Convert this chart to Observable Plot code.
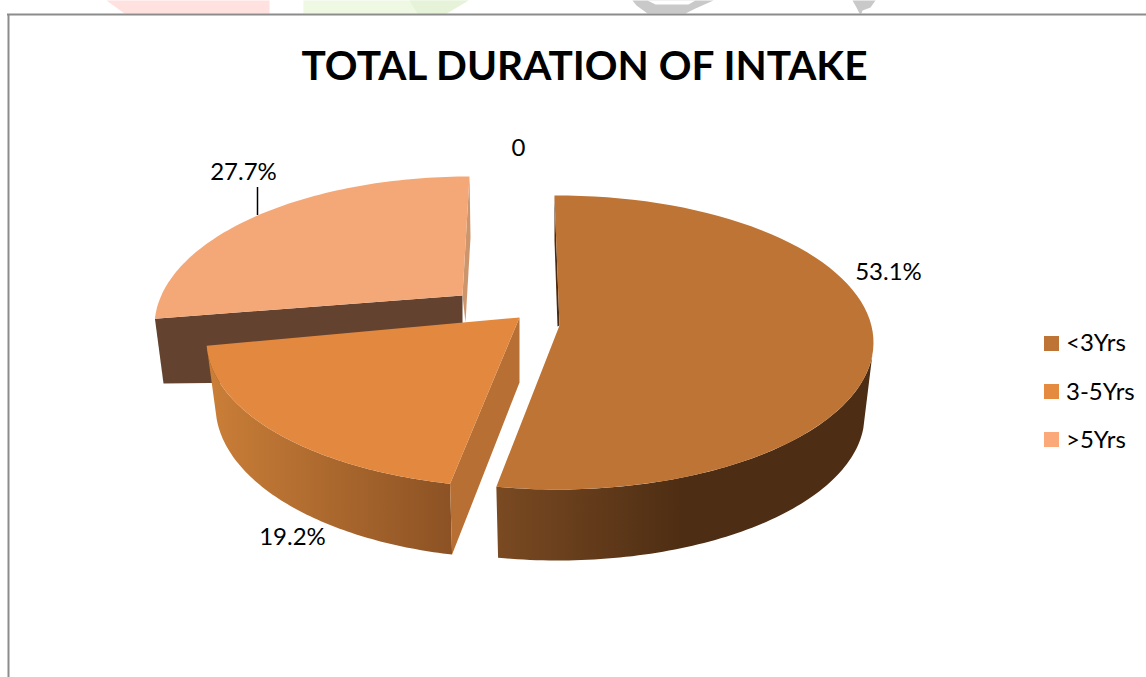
<!DOCTYPE html>
<html>
<head>
<meta charset="utf-8">
<script src="https://cdn.jsdelivr.net/npm/d3@7"></script>
<script src="https://cdn.jsdelivr.net/npm/@observablehq/plot@0.6"></script>
<style>
html,body{margin:0;padding:0;background:#fff;overflow:hidden}
svg{display:block}
</style>
</head>
<body>
<div id="chart"></div>
<script>
const title = "TOTAL DURATION OF INTAKE";
const categories = ["<3Yrs", "3-5Yrs", ">5Yrs"];
const shares = [53.1, 19.2, 27.7];
const zeroLabel = "0";
const sliceLabels = shares.map(v => v.toFixed(1) + "%");

/* Layout only: the 3D view of each exploded wedge: screen ellipses of top and base,
   and the small angle shifts the perspective adds at each end of the wedge */
const views = [
  {top:{cx:557,cy:342,rx:316,ry:147}, base:{cx:557,cy:415,rx:307,ry:145}, warp:[-0.55,0], arcFrom:95, apex:[559,325]},
  {top:{cx:520,cy:340,rx:314,ry:147}, base:{cx:520,cy:405,rx:305,ry:153}, warp:[1.8,7.7], baseWarp:[1.8,4.7], apex:[519,317]},
  {top:{cx:469,cy:326,rx:315,ry:150}, warp:[12.7,0], apex:[462,295]}
];
const fills = ["#BE7434", "#E3883F", "#F5A877"];
const legendFills = ["#BE7434", "#E58B3F", "#FBA978"];
const labelPos = [[888,272],[292,537],[243,172]];
const font = "Lato, Carlito, sans-serif";

/* Slice angles from the values, clockwise from 12 o'clock */
let acc = 0;
const angles = shares.map(v => { const a0 = acc; acc += v * 3.6; return [a0, acc]; });

function pt(e, deg) {
  const r = deg * Math.PI / 180;
  return [e.cx + e.rx * Math.sin(r), e.cy - e.ry * Math.cos(r)];
}
function arc(e, a0, a1) {
  const n = 80, out = [];
  for (let i = 0; i <= n; i++) out.push(pt(e, a0 + (a1 - a0) * i / n));
  return out;
}
function shape(points, fill) {
  return Plot.line(points.concat([points[0]]), {x: d => d[0], y: d => d[1], fill, stroke: "none", curve: "linear"});
}
const [a1, a2, a3] = angles, [v1, v2, v3] = views;
const end1 = [a1[0] + v1.warp[0], a1[1] + v1.warp[1]];
const end2 = [a2[0] + v2.warp[0], a2[1] + v2.warp[1]];
const end2b = [a2[0] + v2.baseWarp[0], a2[1] + v2.baseWarp[1]];
const end3 = [a3[0] + v3.warp[0], a3[1] + v3.warp[1]];

/* slice 1 */
const s1Top = shape([v1.apex, ...arc(v1.top, end1[0], end1[1])], fills[0]);
const s1Wall = shape([...arc(v1.top, v1.arcFrom, end1[1]), ...arc(v1.base, end1[1], v1.arcFrom)], "url(#wall1)");
const s1Inner = shape([pt(v1.top, end1[0]), v1.apex, [557,326], [554,240]], "#4A2A10");

/* slice 2 */
const s2Top = shape([v2.apex, ...arc(v2.top, end2[0], end2[1])], fills[1]);
const s2Wall = shape([...arc(v2.top, end2[0], end2[1]), ...arc(v2.base, end2b[1], end2b[0])], "url(#wall2)");
const s2Cut = shape([v2.apex, [519,382], pt(v2.base, end2b[0]), pt(v2.top, end2[0])], "#B86F33");

/* slice 3 */
const s3Top = shape([v3.apex, ...arc(v3.top, end3[0], end3[1])], fills[2]);
const s3Cut = shape([pt(v3.top, end3[0]), v3.apex, [462,380], [163,383]], "#634330");
const s3Edge = shape([pt(v3.top, end3[1]), [470,237], [465,322], v3.apex], "#CC956B");

/* page remnants above the chart frame */
const scraps = [
  shape([[106,0],[269,0],[269,13],[124,13]], "#FFE1DF"),
  shape([[303,0],[468,0],[446,13],[303,13]], "#EEF8E2"),
  shape([[409,0],[468,0],[446,13],[417,13]], "#E6F3D9"),
  shape([[632,0],[713,0],[695,8],[685,13],[647,13],[636,5]], "#C9C9C9"),
  shape([[647,0],[695,0],[688,4],[655,4]], "#FFFFFF"),
  shape([[852,0],[875,0],[870,7],[862,10],[861,13],[859,13],[856,7]], "#C9C9C9")
];

function gradients() {
  const defs = d3.create("svg:defs");
  const add = (id, stops) => {
    const g = defs.append("linearGradient").attr("id", id).attr("x1", 0).attr("x2", 1).attr("y1", 0).attr("y2", 0);
    stops.forEach(([o, c]) => g.append("stop").attr("offset", o).attr("stop-color", c));
  };
  add("wall1", [[0, "#7A4A22"], [0.5, "#4D2D13"], [1, "#4D2D13"]]);
  add("wall2", [[0, "#CB7F38"], [1, "#8C5224"]]);
  return defs.node();
}

const legendRows = categories.map((c, i) => ({c, i, fill: legendFills[i]}));

const chart = Plot.plot({
  width: 1146, height: 677, margin: 0,
  x: {domain: [0, 1146], range: [0, 1146], axis: null},
  y: {domain: [0, 677], range: [0, 677], axis: null},
  style: {background: "#fff"},
  marks: [
    gradients,
    ...scraps,
    Plot.ruleY([14], {x1: 7, x2: 1146, stroke: "#8C8C8C", strokeWidth: 2}),
    Plot.ruleX([8], {y1: 14, y2: 677, stroke: "#8C8C8C", strokeWidth: 2}),
    s3Cut, s3Edge, s3Top,
    s2Wall, s2Cut, s2Top,
    s1Wall, s1Inner, s1Top,
    Plot.ruleX([257], {y1: 187, y2: 215, stroke: "#000", strokeWidth: 1.5}),
    Plot.text([title], {x: 584, y: 66, text: d => d, fontSize: 40.6, fontWeight: 700, fontFamily: font, fill: "#000"}),
    Plot.text(sliceLabels, {x: (d,i) => labelPos[i][0], y: (d,i) => labelPos[i][1], text: d => d, fontSize: 24, fontFamily: font, fill: "#000"}),
    Plot.text([zeroLabel], {x: 518, y: 148, text: d => d, fontSize: 24, fontFamily: font, fill: "#000"}),
    Plot.rect(legendRows, {x1: 1044, x2: 1059, y1: d => 336 + 48 * d.i, y2: d => 351 + 48 * d.i, fill: "fill"}),
    Plot.text(legendRows, {x: 1065.5, y: d => 343 + 48.5 * d.i, text: "c", textAnchor: "start", fontSize: 24, fontFamily: font, fill: "#000"})
  ]
});
document.getElementById("chart").appendChild(chart);
</script>
</body>
</html>
